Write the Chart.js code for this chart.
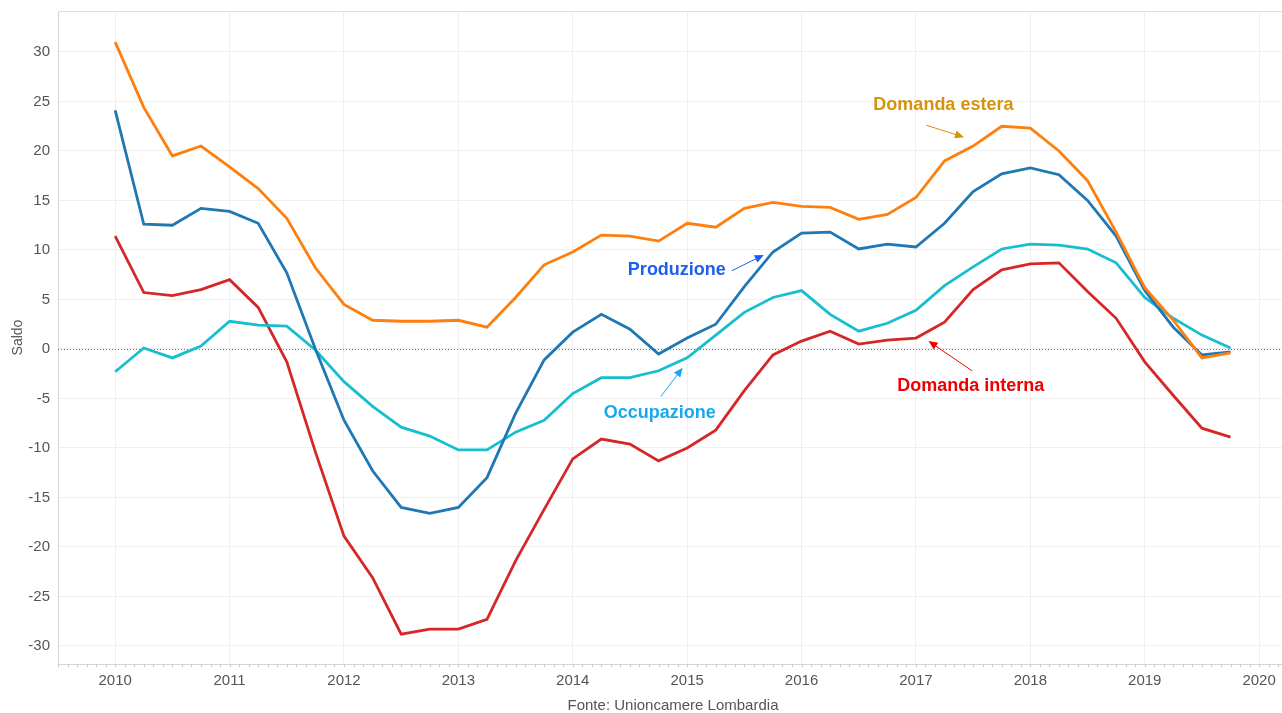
<!DOCTYPE html>
<html lang="it">
<head>
    <meta charset="UTF-8">
    <title>Congiuntura industriale Lombardia</title>
    <script src="https://cdn.jsdelivr.net/npm/chart.js"></script>
    <style>
        html, body { margin: 0; padding: 0; background: #fff; }
        canvas { display: block; }
    </style>
</head>
<body>
    <canvas id="saldoChart" width="1282" height="713"></canvas>
    <script>
        // quarterly points, 2010 Q1 .. 2019 Q4
        const quarters = [];
        for (let y = 2010; y <= 2019; y++) {
            for (let q = 0; q < 4; q++) quarters.push(y + q / 4);
        }

        const domandaEstera = [31.0, 24.4, 19.5, 20.5, 18.4, 16.2, 13.2, 8.2, 4.5, 2.9,
            2.8, 2.8, 2.9, 2.2, 5.2, 8.5, 9.8, 11.5, 11.4, 10.9,
            12.7, 12.3, 14.2, 14.8, 14.4, 14.3, 13.1, 13.6, 15.3, 19.0,
            20.5, 22.5, 22.3, 20.0, 17.0, 11.8, 6.2, 2.9, -0.9, -0.4];
        const produzione = [24.1, 12.6, 12.5, 14.2, 13.9, 12.7, 7.7, 0.0, -7.2, -12.3,
            -16.0, -16.6, -16.0, -13.0, -6.5, -1.1, 1.7, 3.5, 2.0, -0.5,
            1.1, 2.5, 6.3, 9.8, 11.7, 11.8, 10.1, 10.6, 10.3, 12.7,
            15.9, 17.7, 18.3, 17.6, 15.0, 11.4, 5.9, 2.2, -0.6, -0.3];
        const occupazione = [-2.3, 0.1, -0.9, 0.3, 2.8, 2.4, 2.3, -0.1, -3.3, -5.8,
            -7.9, -8.8, -10.2, -10.2, -8.4, -7.2, -4.5, -2.9, -2.9, -2.2,
            -0.9, 1.4, 3.7, 5.2, 5.9, 3.5, 1.8, 2.6, 3.9, 6.4,
            8.3, 10.1, 10.6, 10.5, 10.1, 8.7, 5.2, 3.1, 1.4, 0.1];
        const domandaInterna = [11.4, 5.7, 5.4, 6.0, 7.0, 4.2, -1.3, -10.4, -18.9, -23.1,
            -28.8, -28.3, -28.3, -27.3, -21.4, -16.2, -11.1, -9.1, -9.6, -11.3,
            -10.0, -8.2, -4.2, -0.6, 0.8, 1.8, 0.5, 0.9, 1.1, 2.7,
            6.0, 8.0, 8.6, 8.7, 5.8, 3.1, -1.3, -4.7, -8.0, -8.9];

        // labels with arrows, in data units: [text, colour, textX, textY, fromX, fromY, toX, toY]
        const labels = [
            ['Domanda estera', '#d6920c', 2017.24, 24.6, 2017.09, 22.6, 2017.42, 21.4],
            ['Produzione', '#1c5ef0', 2014.91, 8.0, 2015.39, 7.9, 2015.67, 9.5],
            ['Occupazione', '#16a9ef', 2014.76, -6.5, 2014.77, -4.8, 2014.96, -1.9],
            ['Domanda interna', '#f00000', 2017.48, -3.7, 2017.49, -2.2, 2017.11, 0.8]
        ];

        const series = [
            ['Domanda estera', domandaEstera, '#ff7f0e'],
            ['Produzione', produzione, '#1f77b4'],
            ['Occupazione', occupazione, '#17becf'],
            ['Domanda interna', domandaInterna, '#d62728']
        ];

        const extras = {
            id: 'extras',
            beforeDatasetsDraw(chart) {
                const {ctx, chartArea: a, scales: {x, y}} = chart;
                ctx.save();
                // top border
                ctx.strokeStyle = '#dedede';
                ctx.lineWidth = 1;
                ctx.beginPath();
                ctx.moveTo(a.left, a.top + 0.5);
                ctx.lineTo(a.right, a.top + 0.5);
                ctx.stroke();
                // zero line
                ctx.strokeStyle = '#777';
                ctx.setLineDash([1, 2]);
                const y0 = Math.round(y.getPixelForValue(0)) + 0.5;
                ctx.beginPath();
                ctx.moveTo(a.left, y0);
                ctx.lineTo(a.right, y0);
                ctx.stroke();
                ctx.setLineDash([]);
                // monthly minor ticks
                ctx.strokeStyle = '#c8c8c8';
                for (let m = 2009.5; m <= 2020.2; m += 1 / 12) {
                    const px = Math.round(x.getPixelForValue(m)) + 0.5;
                    ctx.beginPath();
                    ctx.moveTo(px, a.bottom);
                    ctx.lineTo(px, a.bottom + 3);
                    ctx.stroke();
                }
                ctx.restore();
            },
            afterDatasetsDraw(chart) {
                const {ctx, scales: {x, y}} = chart;
                ctx.save();
                ctx.font = 'bold 18px "Liberation Sans", Arial, sans-serif';
                ctx.textAlign = 'center';
                ctx.textBaseline = 'middle';
                labels.forEach(([text, color, tx, ty, fx, fy, ax, ay]) => {
                    ctx.fillStyle = color;
                    ctx.fillText(text, x.getPixelForValue(tx), y.getPixelForValue(ty));
                    const x1 = x.getPixelForValue(fx), y1 = y.getPixelForValue(fy);
                    const x2 = x.getPixelForValue(ax), y2 = y.getPixelForValue(ay);
                    const ang = Math.atan2(y2 - y1, x2 - x1);
                    ctx.strokeStyle = color;
                    ctx.lineWidth = 1;
                    ctx.beginPath();
                    ctx.moveTo(x1, y1);
                    ctx.lineTo(x2 - 7 * Math.cos(ang), y2 - 7 * Math.sin(ang));
                    ctx.stroke();
                    ctx.beginPath();
                    ctx.moveTo(x2, y2);
                    ctx.lineTo(x2 - 9 * Math.cos(ang) + 4 * Math.sin(ang), y2 - 9 * Math.sin(ang) - 4 * Math.cos(ang));
                    ctx.lineTo(x2 - 9 * Math.cos(ang) - 4 * Math.sin(ang), y2 - 9 * Math.sin(ang) + 4 * Math.cos(ang));
                    ctx.closePath();
                    ctx.fill();
                });
                // source line
                ctx.font = '15px "Liberation Sans", Arial, sans-serif';
                ctx.fillStyle = '#555';
                ctx.textBaseline = 'middle';
                ctx.fillText('Fonte: Unioncamere Lombardia', 673, 706);
                ctx.restore();
            }
        };

        const tickFont = {family: '"Liberation Sans", Arial, sans-serif', size: 15};

        new Chart(document.getElementById('saldoChart'), {
            type: 'line',
            data: {
                datasets: series.map(([name, values, color]) => ({
                    label: name,
                    data: values.map((v, i) => ({x: quarters[i], y: v})),
                    borderColor: color,
                    backgroundColor: color,
                    borderWidth: 2.8,
                    pointRadius: 0,
                    tension: 0,
                    fill: false
                }))
            },
            options: {
                responsive: false,
                animation: false,
                layout: {padding: {top: 11, left: 0, right: 0, bottom: 0}},
                plugins: {
                    legend: {display: false},
                    tooltip: {enabled: false}
                },
                scales: {
                    x: {
                        type: 'linear',
                        min: 2009.5,
                        max: 2020.2,
                        afterFit: s => { s.height = 49; s.paddingLeft = 0; s.paddingRight = 0; },
                        grid: {color: '#efefef', drawTicks: false},
                        border: {color: '#d4d4d4'},
                        ticks: {
                            stepSize: 1,
                            includeBounds: false,
                            padding: 8,
                            color: '#555',
                            font: tickFont,
                            callback: v => String(v)
                        }
                    },
                    y: {
                        min: -31.82,
                        max: 34.14,
                        afterFit: s => { s.width = 58; s.paddingTop = 0; s.paddingBottom = 0; },
                        grid: {color: '#efefef', drawTicks: false},
                        border: {color: '#d4d4d4'},
                        title: {
                            display: true,
                            text: 'Saldo',
                            color: '#555',
                            font: {family: '"Liberation Sans", Arial, sans-serif', size: 14},
                            padding: {top: 10, bottom: 0}
                        },
                        ticks: {
                            stepSize: 5,
                            includeBounds: false,
                            padding: 8,
                            color: '#555',
                            font: tickFont
                        }
                    }
                }
            },
            plugins: [extras]
        });
    </script>
</body>
</html>
